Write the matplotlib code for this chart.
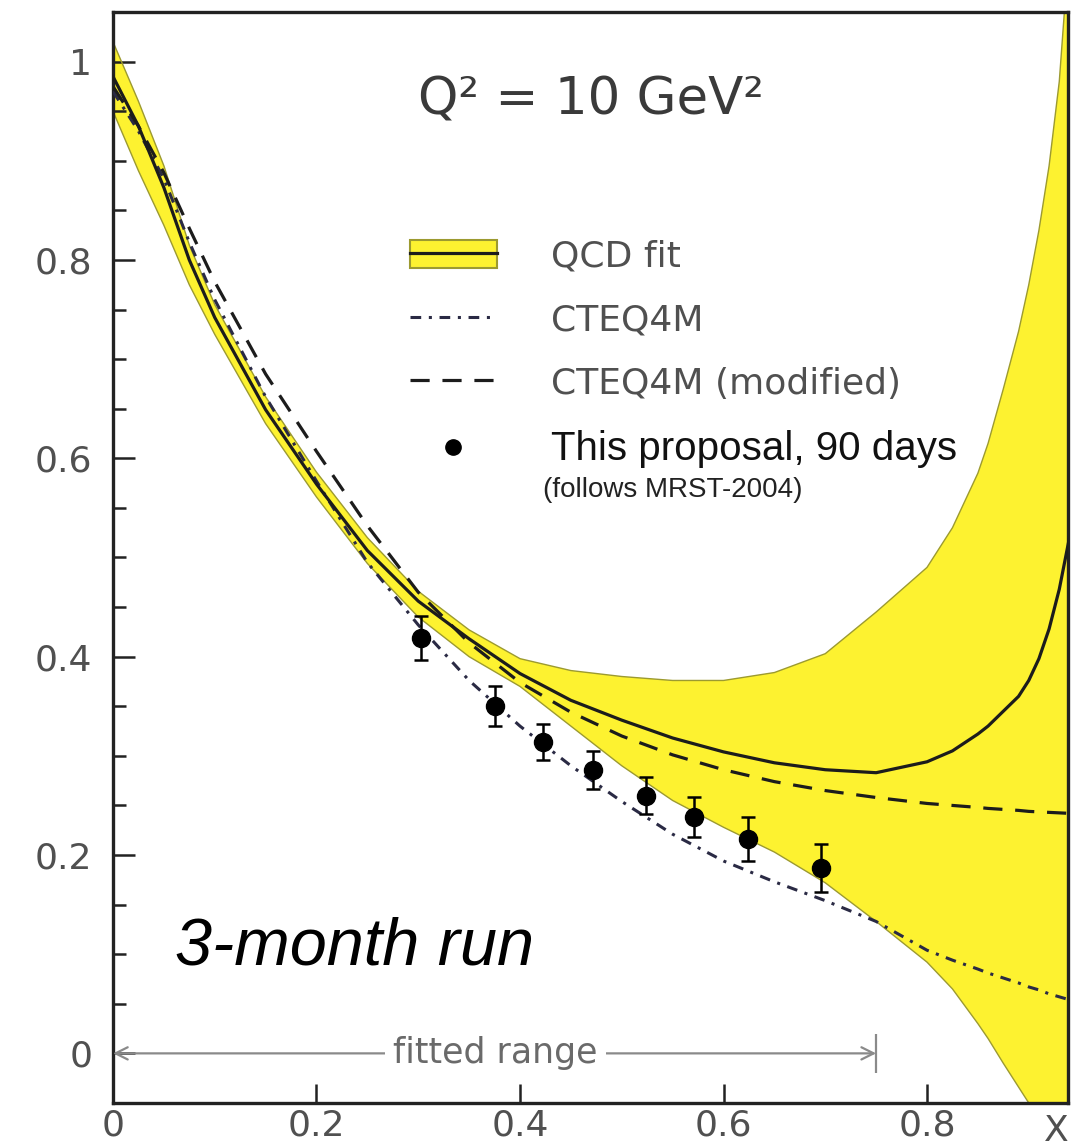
"""
Valence ratio at Q^2 = 10 GeV^2: QCD-fit error band with its central value,
the CTEQ4M and modified CTEQ4M curves, and projected points for a 90-day run.
"""

import matplotlib

matplotlib.use("Agg")
import matplotlib.pyplot as plt
from matplotlib.lines import Line2D
from matplotlib.patches import Patch
from matplotlib.ticker import MultipleLocator

# common x grid of the fit band and the model curves
X_GRID = [0.0, 0.025, 0.05, 0.075, 0.1, 0.15, 0.2, 0.25, 0.3, 0.35, 0.4, 0.45,
          0.5, 0.55, 0.6, 0.65, 0.7, 0.75, 0.8, 0.825, 0.85, 0.86, 0.875, 0.89,
          0.9, 0.91, 0.92, 0.93, 0.94]
QCD_FIT = [0.985, 0.935, 0.873, 0.80, 0.742, 0.649, 0.574, 0.507, 0.456, 0.418, 0.383, 0.356,
           0.336, 0.318, 0.304, 0.293, 0.286, 0.283, 0.294, 0.305, 0.322, 0.33, 0.345, 0.36,
           0.376, 0.398, 0.428, 0.468, 0.52]
QCD_UPPER = [1.02, 0.96, 0.895, 0.815, 0.755, 0.662, 0.586, 0.52, 0.466, 0.427, 0.398, 0.386,
             0.38, 0.376, 0.376, 0.384, 0.403, 0.445, 0.49, 0.53, 0.585, 0.615, 0.67, 0.728,
             0.775, 0.83, 0.895, 0.98, 1.12]
QCD_LOWER = [0.95, 0.89, 0.835, 0.775, 0.725, 0.635, 0.561, 0.494, 0.44, 0.40, 0.37, 0.33,
             0.29, 0.255, 0.228, 0.203, 0.172, 0.133, 0.092, 0.065, 0.03, 0.015, -0.01, -0.034,
             -0.05, -0.07, -0.09, -0.11, -0.13]
CTEQ4M = [0.97, 0.93, 0.882, 0.818, 0.76, 0.662, 0.577, 0.495, 0.432, 0.376, 0.33, 0.29,
          0.254, 0.221, 0.194, 0.173, 0.154, 0.133, 0.104, 0.094, 0.085, 0.081, 0.076, 0.071,
          0.067, 0.064, 0.06, 0.057, 0.054]
CTEQ4M_MOD = [0.975, 0.935, 0.888, 0.832, 0.778, 0.685, 0.607, 0.532, 0.465, 0.414, 0.374, 0.344,
              0.32, 0.301, 0.286, 0.274, 0.265, 0.258, 0.252, 0.25, 0.248, 0.247, 0.246, 0.245,
              0.244, 0.2435, 0.243, 0.2425, 0.242]

# projected measurement, 90 days
X_DATA = [0.303, 0.375, 0.423, 0.472, 0.524, 0.571, 0.624, 0.696]
Y_DATA = [0.419, 0.350, 0.314, 0.286, 0.260, 0.238, 0.216, 0.187]
Y_ERR = [0.022, 0.020, 0.018, 0.019, 0.019, 0.020, 0.022, 0.024]

FIT_RANGE = (0.0, 0.75)

YELLOW = "#fdf230"
EDGE = "#9c9a30"
INK = "#1c1c1c"
GRAY = "#505050"
DASHDOT = (0, (3.5, 2.5, 1.0, 2.5))
DASHED = (0, (6, 4))

fig = plt.figure(figsize=(10.72, 11.47), dpi=100)
ax = fig.add_axes([0.1054, 0.0384, 0.8909, 0.9511])

# QCD fit band and central value
ax.fill_between(X_GRID, QCD_LOWER, QCD_UPPER, color=YELLOW, lw=0, zorder=1)
ax.plot(X_GRID, QCD_UPPER, color=EDGE, lw=1.0, zorder=2)
ax.plot(X_GRID, QCD_LOWER, color=EDGE, lw=1.0, zorder=2)
ax.plot(X_GRID, QCD_FIT, color=INK, lw=2.3, zorder=4)

# model curves
ax.plot(X_GRID, CTEQ4M, color="#2a2a44", lw=2.2, ls=DASHDOT, zorder=3)
ax.plot(X_GRID, CTEQ4M_MOD, color=INK, lw=2.3, ls=DASHED, zorder=3)

# projected data
ax.errorbar(X_DATA, Y_DATA, yerr=Y_ERR, fmt="o", color="black", ms=13,
            elinewidth=1.8, capsize=5, capthick=1.8, zorder=5)

# fitted range marker along y = 0
ax.annotate("", xy=(FIT_RANGE[0], 0.0), xytext=(FIT_RANGE[1], 0.0),
            arrowprops=dict(arrowstyle="<->", color="#8a8a8a", lw=1.6,
                            mutation_scale=22, shrinkA=0, shrinkB=0))
ax.vlines(FIT_RANGE[1], -0.02, 0.02, color="#8a8a8a", lw=1.6)
ax.text(0.376, 0.0, "fitted range", ha="center", va="center", fontsize=25,
        color="#6a6a6a", bbox=dict(facecolor="white", edgecolor="none", pad=6))

# axes
ax.set_xlim(0.0, 0.9386)
ax.set_ylim(-0.05, 1.05)
ax.set_xticks([0.0, 0.2, 0.4, 0.6, 0.8])
ax.set_xticklabels(["0", "0.2", "0.4", "0.6", "0.8"])
ax.set_yticks([0.0, 0.2, 0.4, 0.6, 0.8, 1.0])
ax.set_yticklabels(["0", "0.2", "0.4", "0.6", "0.8", "1"])
ax.yaxis.set_minor_locator(MultipleLocator(0.05))
ax.tick_params(axis="both", which="both", direction="in", colors="#222222",
               labelcolor=GRAY, labelsize=26, width=1.8)
ax.tick_params(axis="x", which="major", length=14, pad=4)
ax.tick_params(axis="y", which="major", length=16, pad=15)
ax.tick_params(axis="y", which="minor", length=9)
for spine in ax.spines.values():
    spine.set_linewidth(2.4)
    spine.set_color("#222222")
ax.text(0.988, -0.0345, "X", transform=ax.transAxes, ha="center", va="baseline",
        fontsize=26, color=GRAY)

# annotations
ax.text(0.5005, 0.919, "Q² = 10 GeV²", transform=ax.transAxes, ha="center",
        va="center", fontsize=37, color="#3a3a3a")
ax.text(0.065, 0.1265, "3-month run", transform=ax.transAxes, ha="left",
        va="baseline", fontsize=48, style="italic", family="Liberation Sans",
        color="black")

# legend
handles = [
    (Patch(facecolor=YELLOW, edgecolor=EDGE, lw=1.5), Line2D([], [], color=INK, lw=2.3)),
    Line2D([], [], color="#2a2a44", lw=2.2, ls=DASHDOT),
    Line2D([], [], color=INK, lw=2.3, ls=DASHED),
    Line2D([], [], color="black", marker="o", ms=11, ls="none"),
]
labels = ["QCD fit", "CTEQ4M", "CTEQ4M (modified)", "This proposal, 90 days"]
leg = ax.legend(handles, labels, loc="upper left", bbox_to_anchor=(0.311, 0.7915),
                frameon=False, fontsize=26, handlelength=2.4, handleheight=0.85,
                handletextpad=1.5, labelspacing=0.82, borderpad=0, borderaxespad=0)
for text in leg.get_texts()[:3]:
    text.set_color(GRAY)
last = leg.get_texts()[3]
last.set_color("#111111")
last.set_fontsize(29)
last.set_family("Liberation Sans")
ax.text(0.450, 0.562, "(follows MRST-2004)", transform=ax.transAxes, ha="left",
        va="center", fontsize=20, family="Liberation Sans", color="#222222")

fig.savefig("out.png", dpi=100)
